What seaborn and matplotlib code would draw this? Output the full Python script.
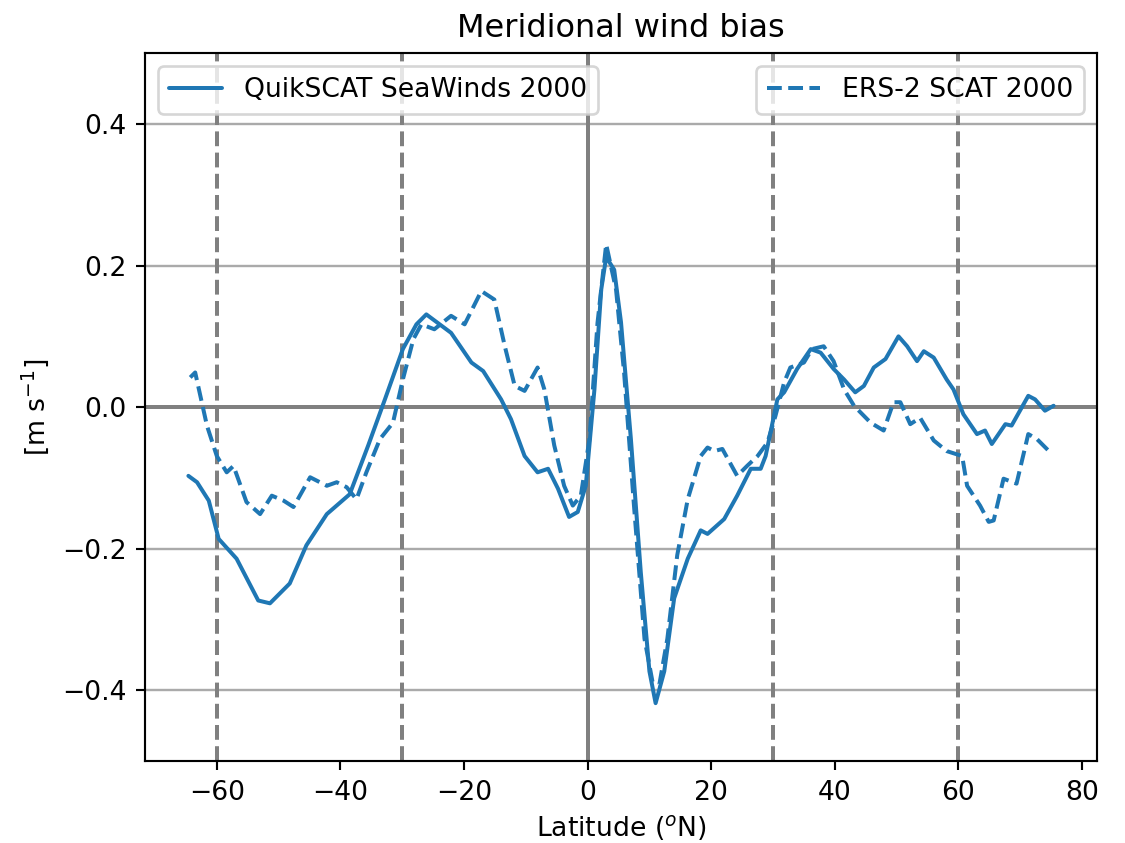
import matplotlib
matplotlib.use("Agg")
import matplotlib.pyplot as plt
import seaborn as sns
import pandas as pd
import numpy as np

# QuikSCAT SeaWinds 2000 (solid)
qs_lat = [-64.6, -63.2, -61.3, -59.7, -56.8, -53.3, -51.4, -48.2, -45.5, -42.2, -38.5,
          -35.5, -32.8, -29.9, -27.7, -26.1, -22.1, -18.8, -16.9, -14.0, -12.4, -10.2,
          -8.1, -6.4, -4.8, -3.0, -1.6, -0.3, 1.1, 2.2, 3.0, 4.3, 5.4, 7.0, 8.6, 10.0,
          11.0, 12.4, 14.0, 16.2, 18.3, 19.4, 22.1, 24.2, 26.4, 28.0, 28.8, 30.7, 31.8,
          33.9, 36.1, 37.7, 39.8, 41.5, 43.3, 44.7, 46.3, 48.2, 50.3, 51.7, 53.3, 54.4,
          56.0, 58.1, 59.2, 60.8, 63.0, 64.3, 65.4, 67.6, 68.6, 71.3, 72.4, 74.0, 75.4]
qs_bias = [-0.097, -0.106, -0.132, -0.186, -0.214, -0.273, -0.277, -0.249, -0.195, -0.151, -0.123,
           -0.054, 0.011, 0.082, 0.117, 0.131, 0.105, 0.063, 0.051, 0.011, -0.017, -0.069,
           -0.092, -0.087, -0.115, -0.155, -0.148, -0.111, 0.025, 0.166, 0.212, 0.194, 0.120, -0.045, -0.233, -0.373,
           -0.418, -0.373, -0.270, -0.214, -0.174, -0.179, -0.158, -0.125, -0.087, -0.087, -0.069, 0.011, 0.021,
           0.054, 0.082, 0.077, 0.054, 0.039, 0.021, 0.030, 0.056, 0.068, 0.100, 0.086, 0.065, 0.079,
           0.070, 0.039, 0.025, -0.010, -0.038, -0.033, -0.052, -0.024, -0.026, 0.016, 0.011, -0.005, 0.002]

# ERS-2 SCAT 2000 (dashed)
ers_lat = [-64.3, -63.5, -61.6, -60.0, -58.4, -57.3, -55.2, -53.0, -51.1, -49.2, -47.6, -44.9,
           -42.2, -40.6, -39.0, -37.4, -35.8, -33.6, -31.5, -29.9, -28.2, -26.9, -24.8, -22.1,
           -19.9, -17.2, -15.1, -13.4, -11.8, -10.2, -8.1, -7.0, -5.4, -3.8, -2.4, -1.1, 0.3,
           1.6, 3.0, 4.6, 5.9, 7.5, 9.2, 10.5, 11.6, 12.9, 14.5, 16.2, 18.3, 19.4, 20.5, 21.8,
           24.2, 25.8, 27.5, 29.1, 30.4, 31.8, 32.8, 35.0, 36.3, 38.2, 39.8, 41.5, 43.1, 45.8,
           47.9, 49.5, 50.6, 52.2, 53.8, 56.0, 58.1, 60.6, 61.4, 63.5, 64.9, 65.7, 67.3, 69.4,
           71.3, 72.7, 75.1]
ers_bias = [0.042, 0.049, -0.026, -0.069, -0.092, -0.083, -0.134, -0.151, -0.125, -0.132, -0.141, -0.099,
            -0.111, -0.106, -0.113, -0.130, -0.092, -0.045, -0.022, 0.039, 0.096, 0.117, 0.110, 0.129,
            0.117, 0.164, 0.152, 0.086, 0.030, 0.023, 0.056, 0.025, -0.054, -0.111, -0.139, -0.125, -0.045,
            0.119, 0.230, 0.166, 0.049, -0.139, -0.327, -0.388, -0.392, -0.327, -0.209, -0.130, -0.069, -0.057, -0.062, -0.059,
            -0.097, -0.083, -0.069, -0.050, -0.012, 0.035, 0.056, 0.063, 0.082, 0.086, 0.065, 0.025, 0.002, -0.022,
            -0.033, 0.007, 0.007, -0.024, -0.015, -0.047, -0.062, -0.069, -0.111, -0.139, -0.162, -0.160, -0.101, -0.108,
            -0.038, -0.045, -0.066]

sns.set_style("white")
plt.rcParams.update({"text.color": "black", "axes.labelcolor": "black",
                     "xtick.color": "black", "ytick.color": "black"})
DPI = 192
fig, ax = plt.subplots(figsize=(1125 / DPI, 843 / DPI), dpi=DPI)
fig.subplots_adjust(left=0.129, right=0.975, top=0.937, bottom=0.097)

df_qs = pd.DataFrame({"lat": qs_lat, "bias": qs_bias})
df_ers = pd.DataFrame({"lat": ers_lat, "bias": ers_bias})
c = "#1f77b4"
sns.lineplot(data=df_qs, x="lat", y="bias", ax=ax, color=c, lw=1.5,
             label="QuikSCAT SeaWinds 2000", legend=False, zorder=3)
sns.lineplot(data=df_ers, x="lat", y="bias", ax=ax, color=c, lw=1.5, ls="--",
             label="ERS-2 SCAT 2000", legend=False, zorder=3)

ax.set_xlim(-71.6, 82.4)
ax.set_ylim(-0.5, 0.5)
ax.set_yticks([-0.4, -0.2, 0.0, 0.2, 0.4])
ax.set_xticks([-60, -40, -20, 0, 20, 40, 60, 80])
ax.yaxis.grid(True, color="#aaaaaa", lw=0.9)
ax.set_axisbelow(True)
for v in [-60, -30, 30, 60]:
    ax.axvline(v, color="gray", ls="--", lw=1.5, zorder=1)
ax.axvline(0, color="gray", lw=1.5, zorder=1)
ax.axhline(0, color="gray", lw=1.5, zorder=1)

for s in ax.spines.values():
    s.set_color("black")
    s.set_linewidth(0.8)
ax.tick_params(axis="both", which="both", length=3.5, width=0.8, direction="out",
               bottom=True, left=True, labelsize=10, colors="black")

lines = ax.get_lines()
leg1 = ax.legend(handles=[lines[0]], labels=["QuikSCAT SeaWinds 2000"], loc="upper left", fontsize=10)
ax.add_artist(leg1)
ax.legend(handles=[lines[1]], labels=["ERS-2 SCAT 2000"], loc="upper right", fontsize=10)

ax.set_title("Meridional wind bias", fontsize=12, color="black")
ax.set_xlabel("Latitude ($^o$N)", fontsize=10, labelpad=2.5)
ax.set_ylabel("[m s$^{-1}$]", fontsize=10)

fig.savefig("out.png", dpi=DPI)
